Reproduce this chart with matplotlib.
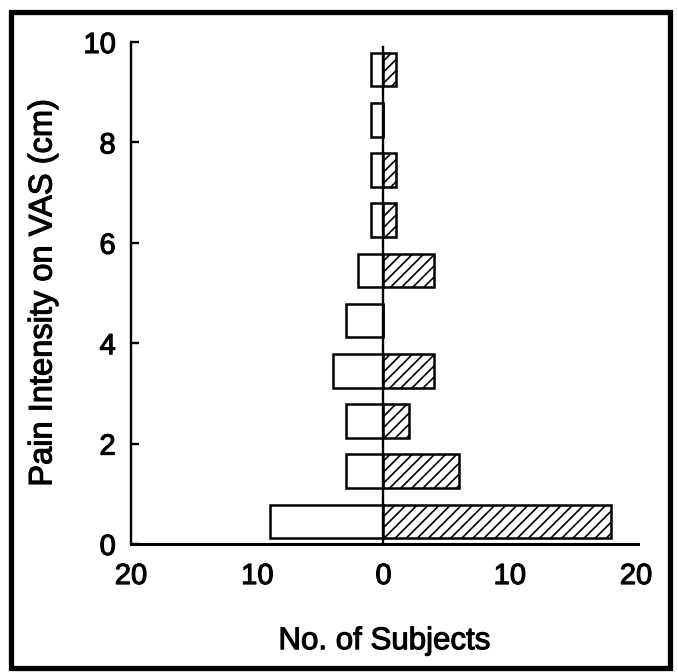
import numpy as np
import matplotlib
matplotlib.use("Agg")
import matplotlib.pyplot as plt
import matplotlib.patheffects as pe
from matplotlib.patches import Rectangle

# Data
bins = np.arange(10)                       # VAS bins 0-1, 1-2, ... 9-10 cm
left_counts = [9, 3, 3, 4, 3, 2, 1, 1, 1, 1]    # open bars (left side)
right_counts = [18, 6, 2, 4, 0, 4, 1, 1, 0, 1]  # hatched bars (right side)
x_ticks = [-20, -10, 0, 10, 20]
x_ticklabels = ["20", "10", "0", "10", "20"]
y_ticks = [0, 2, 4, 6, 8, 10]

plt.rcParams['font.family'] = ['Liberation Sans', 'DejaVu Sans']
plt.rcParams['hatch.linewidth'] = 1.2

fig = plt.figure(figsize=(6.78, 6.72), dpi=100)
ax = fig.add_axes([0.1932, 0.1905, 0.7478, 0.747])

ypos = bins + 0.45
h = 0.67
ax.barh(ypos, -np.array(left_counts), height=h, color='white',
        edgecolor='black', linewidth=1.8, zorder=2)
ax.barh(ypos, right_counts, height=h, color='white',
        edgecolor='black', linewidth=1.8, hatch='///', zorder=2)

ax.plot([0, 0], [0, 9.9], color='black', lw=1.7, zorder=3)

ax.set_xlim(-20, 20.16)
ax.set_ylim(0, 10)
ax.set_xticks(x_ticks)
ax.set_xticklabels(x_ticklabels)
ax.set_yticks(y_ticks)

for s in ['top', 'right']:
    ax.spines[s].set_visible(False)
ax.spines['left'].set_linewidth(1.7)
ax.spines['bottom'].set_linewidth(2.2)

ax.tick_params(axis='x', length=0, pad=13, labelsize=21)
ax.tick_params(axis='y', direction='in', length=6, width=1.7, pad=11, labelsize=21)

ax.set_xlabel("No. of Subjects", fontsize=22.5, labelpad=26)
ax.set_ylabel("Pain Intensity on VAS (cm)", fontsize=23.5, labelpad=18)

thick = [pe.withStroke(linewidth=0.8, foreground='black')]
for t in ax.get_xticklabels() + ax.get_yticklabels() + [ax.xaxis.label, ax.yaxis.label]:
    t.set_path_effects(thick)

fig.patches.append(Rectangle((0.016, 0.006), 0.972, 0.976, transform=fig.transFigure,
                             fill=False, edgecolor='black', linewidth=3.8))

fig.savefig("out.png", dpi=100)
